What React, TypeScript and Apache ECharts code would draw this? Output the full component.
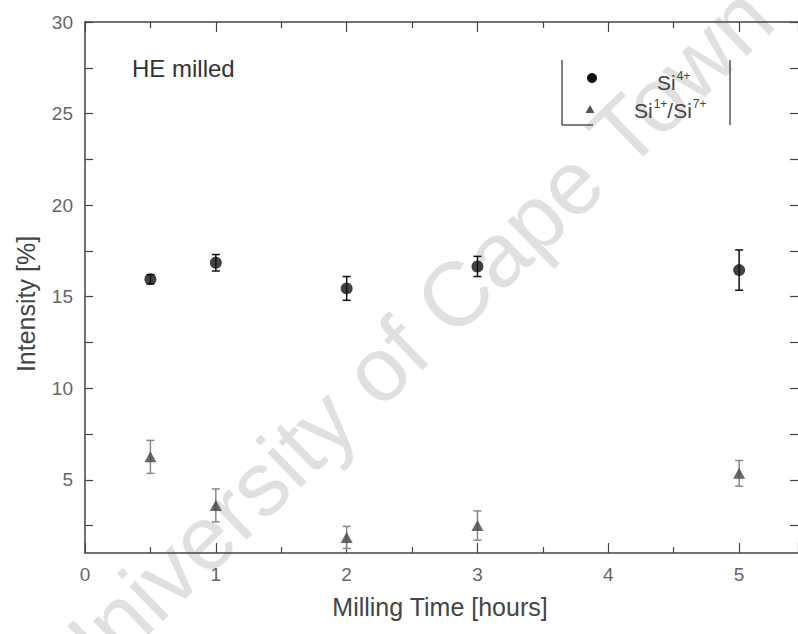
import React, { useEffect, useRef } from "react";
import * as echarts from "echarts";

const times = [0.5, 1, 2, 3, 5];
const si4 = [15.95, 16.85, 15.45, 16.65, 16.45];
const si4Err = [0.25, 0.45, 0.65, 0.55, 1.1];
const ratio = [6.25, 3.6, 1.85, 2.5, 5.35];
const ratioErr = [0.9, 0.9, 0.6, 0.8, 0.7];
const yLabelValues = [5, 10, 15, 20, 25, 30];
const yTickValues = [2.5, 5, 7.5, 10, 12.5, 15, 17.5, 20, 22.5, 25, 27.5, 30];

const FONT = "'Liberation Sans', Arial, sans-serif";

function errRender(color: string) {
  return (params: any, api: any) => {
    const x = api.value(0);
    const lo = api.value(1);
    const hi = api.value(2);
    const p1 = api.coord([x, hi]);
    const p2 = api.coord([x, lo]);
    const w = 4;
    const st = { stroke: color, lineWidth: 1.5 };
    return {
      type: "group",
      children: [
        { type: "line", shape: { x1: p1[0], y1: p1[1], x2: p2[0], y2: p2[1] }, style: st },
        { type: "line", shape: { x1: p1[0] - w, y1: p1[1], x2: p1[0] + w, y2: p1[1] }, style: st },
        { type: "line", shape: { x1: p2[0] - w, y1: p2[1], x2: p2[0] + w, y2: p2[1] }, style: st },
      ],
    };
  };
}

export default function App() {
  const ref = useRef<HTMLDivElement>(null);
  useEffect(() => {
    if (!ref.current) return;
    const chart = echarts.init(ref.current, null, { renderer: "svg" });
    const mkAxisLine = (color: string) => ({ show: true, onZero: false, lineStyle: { color, width: 1.5 } });
    const mkXTick = () => ({ show: true, inside: true, length: 10, lineStyle: { color: "#444", width: 1.2 } });
    const mkXMinor = () => ({ show: true, splitNumber: 2, length: 6, lineStyle: { color: "#444", width: 1.2 } });
    const mkYTick = () => ({
      show: true,
      inside: true,
      length: 8,
      customValues: yTickValues,
      lineStyle: { color: "#444", width: 1.2 },
    });
    const option: any = {
      animation: false,
      backgroundColor: "#fff",
      grid: { left: 85, top: 22, right: 0, bottom: 81, containLabel: false },
      xAxis: [
        {
          type: "value",
          min: 0,
          max: 5.45,
          interval: 1,
          position: "bottom",
          splitLine: { show: false },
          axisLine: mkAxisLine("#444"),
          axisTick: mkXTick(),
          minorTick: mkXMinor(),
          axisLabel: {
            show: true,
            margin: 12,
            color: "#666",
            fontSize: 19,
            fontFamily: FONT,
            showMaxLabel: false,
          },
        },
        {
          type: "value",
          min: 0,
          max: 5.45,
          interval: 1,
          position: "top",
          splitLine: { show: false },
          axisLine: mkAxisLine("#444"),
          axisTick: mkXTick(),
          minorTick: mkXMinor(),
          axisLabel: { show: false },
        },
      ],
      yAxis: [
        {
          type: "value",
          min: 1,
          max: 30,
          position: "left",
          splitLine: { show: false },
          axisLine: mkAxisLine("#444"),
          axisTick: mkYTick(),
          axisLabel: {
            show: true,
            margin: 12,
            color: "#666",
            fontSize: 19,
            fontFamily: FONT,
            customValues: yLabelValues,
          },
        },
        {
          type: "value",
          min: 1,
          max: 30,
          position: "right",
          splitLine: { show: false },
          axisLine: mkAxisLine("rgba(0,0,0,0)"),
          axisTick: mkYTick(),
          axisLabel: { show: false },
        },
      ],
      series: [
        {
          type: "custom",
          name: "Si4+ error",
          renderItem: errRender("#111"),
          data: times.map((t, i) => [t, si4[i] - si4Err[i], si4[i] + si4Err[i]]),
          encode: { x: 0, y: [1, 2] },
          z: 3,
          silent: true,
        },
        {
          type: "custom",
          name: "ratio error",
          renderItem: errRender("#888"),
          data: times.map((t, i) => [t, ratio[i] - ratioErr[i], ratio[i] + ratioErr[i]]),
          encode: { x: 0, y: [1, 2] },
          z: 3,
          silent: true,
        },
        {
          type: "scatter",
          name: "Si4+",
          data: times.map((t, i) => [t, si4[i]]),
          symbol: "circle",
          symbolSize: 12,
          itemStyle: { color: "#111" },
          z: 4,
        },
        {
          type: "scatter",
          name: "Si1+/Si7+",
          data: times.map((t, i) => [t, ratio[i]]),
          symbol: "triangle",
          symbolSize: [12, 11],
          itemStyle: { color: "#444" },
          z: 4,
        },
      ],
      graphic: [
        {
          type: "text",
          x: 405,
          y: 343,
          rotation: (44 * Math.PI) / 180,
          z: -10,
          silent: true,
          style: {
            text: "University of Cape Town",
            fontSize: 91,
            fontFamily: FONT,
            fill: "#e0e0e0",
            align: "center",
            verticalAlign: "middle",
          },
        },
        {
          type: "text",
          x: 132,
          y: 68,
          style: {
            text: "HE milled",
            fontSize: 24,
            fontFamily: FONT,
            fill: "#333",
            verticalAlign: "middle",
          },
        },
        {
          type: "text",
          x: 440,
          y: 607,
          style: {
            text: "Milling Time [hours]",
            fontSize: 25,
            fontFamily: FONT,
            fill: "#444",
            align: "center",
            verticalAlign: "middle",
          },
        },
        {
          type: "text",
          x: 26,
          y: 304,
          rotation: Math.PI / 2,
          style: {
            text: "Intensity [%]",
            fontSize: 25,
            fontFamily: FONT,
            fill: "#444",
            align: "center",
            verticalAlign: "middle",
          },
        },
        { type: "line", shape: { x1: 562, y1: 60, x2: 562, y2: 125 }, style: { stroke: "#555", lineWidth: 1.5 } },
        { type: "line", shape: { x1: 562, y1: 125, x2: 593, y2: 125 }, style: { stroke: "#555", lineWidth: 1.5 } },
        { type: "line", shape: { x1: 730, y1: 60, x2: 730, y2: 125 }, style: { stroke: "#555", lineWidth: 1.5 } },
        { type: "circle", shape: { cx: 592, cy: 78, r: 5 }, style: { fill: "#111" } },
        { type: "polygon", shape: { points: [[590, 105], [594.5, 113], [585.5, 113]] }, style: { fill: "#555" } },
        {
          type: "text",
          x: 657,
          y: 82,
          style: {
            text: "{b|Si}{s|4+}",
            fill: "#444",
            verticalAlign: "middle",
            rich: {
              b: { fontSize: 21, fontFamily: FONT, fill: "#444", lineHeight: 24 },
              s: { fontSize: 12, fontFamily: FONT, fill: "#444", lineHeight: 12, verticalAlign: "top", padding: [0, 0, 12, 1] },
            },
          },
        },
        {
          type: "text",
          x: 634,
          y: 110,
          style: {
            text: "{b|Si}{s|1+}{b|/Si}{s|7+}",
            fill: "#444",
            verticalAlign: "middle",
            rich: {
              b: { fontSize: 21, fontFamily: FONT, fill: "#444", lineHeight: 24 },
              s: { fontSize: 12, fontFamily: FONT, fill: "#444", lineHeight: 12, verticalAlign: "top", padding: [0, 0, 12, 1] },
            },
          },
        },
      ],
    };
    chart.setOption(option);
    return () => chart.dispose();
  }, []);
  return (
    <div
      ref={ref}
      style={{ position: "absolute", left: 0, top: 0, width: 798, height: 634 }}
    />
  );
}
